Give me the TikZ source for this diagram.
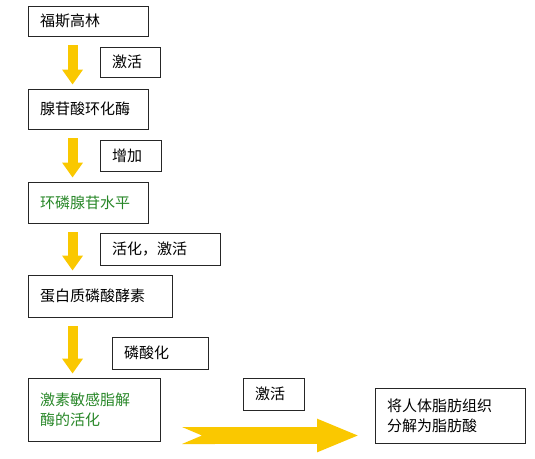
\documentclass[tikz,border=0pt]{standalone}
\usepackage{fontspec}
\usepackage{tikz}
\usetikzlibrary{arrows.meta}
\newfontfamily\cjk{Noto Sans CJK SC}
\definecolor{arrowyellow}{RGB}{250,200,0}
\definecolor{stepgreen}{RGB}{40,135,40}
\newcommand*{\boxfont}{\cjk\fontsize{15}{20}\selectfont}

\begin{document}
\begin{tikzpicture}[x=1pt, y=-1pt]
  \useasboundingbox (0,0) rectangle (535,458);

  {\tikzstyle{every node}=[rectangle, draw=black!85, line width=0.9pt,
      inner xsep=12pt, inner ysep=0pt, align=left, font=\boxfont]
    % steps
    \node (b1) [minimum height=30pt, text width=96pt] at (88,21) {福斯高林};
    \node (b2) [minimum height=40pt, text width=96pt] at (88,109) {腺苷酸环化酶};
    \node (b3) [minimum height=41pt, text width=96pt, text=stepgreen] at (88,202.5) {环磷腺苷水平};
    \node (b4) [minimum height=42pt, text width=120pt] at (100,296) {蛋白质磷酸酵素};
    \node (b5) [minimum height=63pt, text width=108pt, text=stepgreen] at (94,409.5) {激素敏感脂解\\酶的活化};
    \node (b6) [minimum height=55pt, text width=126pt] at (450,415.5) {将人体脂肪组织\\分解为脂肪酸};

    % labels
    \foreach \name/\x/\y/\w/\h/\txt in {l1/130/62/36/30/激活, l2/130.5/155.5/37/31/增加,
        l3/160/249/96/32/活化，激活, l4/160/353/72/32/磷酸化, l5/273.5/394/37/32/激活}
    {
      \node (\name) [minimum height=\h pt, text width=\w pt] at (\x,\y) {\txt};
    }
  }

  {\tikzstyle{downarrow}=[arrowyellow, line width=10pt,
      -{Triangle[width=20pt, length=15pt]}, shorten <=9pt, shorten >=4pt]
    \foreach \a/\b in {b1/b2, b2/b3, b3/b4, b4/b5}
    {
      \draw[downarrow] ([xshift=45pt]\a.south west) -- ([xshift=45pt]\b.north west);
    }
  }

  \coordinate (tail) at (182,435.5);
  \coordinate (tip) at (360,435.5);
  \draw[arrowyellow, line width=17pt,
    {Triangle Cap[reversed, length=20pt]}-{Triangle[width=30pt, length=43pt]}]
    (tail) -- (tip);
\end{tikzpicture}
\end{document}
